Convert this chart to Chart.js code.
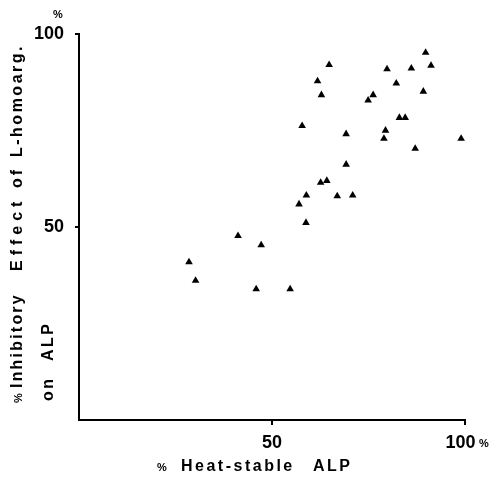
<!DOCTYPE html>
<html>
<head>
<meta charset="utf-8">
<script src="https://cdn.jsdelivr.net/npm/chart.js@4/dist/chart.umd.min.js"></script>
<style>
  html,body{margin:0;padding:0;background:#fff;}
  #wrap{width:494px;height:482px;}
</style>
</head>
<body>
<div id="wrap"><canvas id="c" width="494" height="482"></canvas></div>
<script>
/* values */
const heatStable = [89.8,64.8,91.2,79.8,86.1,61.8,82.2,62.8,76.2,74.9,89.2,83.0,84.5,57.8,79.4,69.2,79.0,99.0,87.1,69.2,62.6,64.2,58.9,57.0,66.9,70.9,58.8,41.2,47.2,28.5,30.2,45.9,54.7];
const inhibition = [95.2,92.0,91.8,90.9,91.1,87.8,87.2,84.2,84.2,82.8,85.1,78.3,78.3,76.2,75.0,74.1,72.9,72.9,70.3,66.2,61.5,62.0,58.2,55.9,58.0,58.2,51.1,47.7,45.3,40.9,36.1,33.9,33.9];
const tickVals = [50, 100];

const FONT = '"Liberation Sans", Arial, sans-serif';

/* titles + little % signs */
const labels = {
  id:'labels',
  afterDraw(chart){
    const ctx = chart.ctx;
    ctx.save();
    ctx.fillStyle = '#000';
    ctx.textBaseline = 'alphabetic';
    ctx.textAlign = 'left';

    // % above y axis and after the 100 on x
    ctx.font = 'bold 11px ' + FONT;
    ctx.fillText('%', 53, 18);
    ctx.fillText('%', 479, 447);

    // x title
    ctx.letterSpacing = '2.5px';
    ctx.fillText('%', 157, 471);
    ctx.font = 'bold 16px ' + FONT;
    ctx.fillText('Heat-stable', 181, 471);
    ctx.fillText('ALP', 313, 471);

    // y title, rotated
    ctx.rotate(-Math.PI/2);
    const seg = (txt, y, col, size, sp) => {
      ctx.font = 'bold ' + size + 'px ' + FONT;
      ctx.letterSpacing = sp + 'px';
      ctx.fillText(txt, -y, col);
    };
    seg('%', 403, 22, 11, 0);
    seg('Inhibitory', 388, 22, 16, 2.2);
    seg('Effect', 271, 22, 16, 5);
    seg('of', 188, 22, 16, 3);
    seg('L-homoarg.', 157, 22, 16, 2.5);
    seg('on', 401, 53, 16, 2.5);
    seg('ALP', 361, 53, 16, 2.5);
    ctx.restore();
  }
};

new Chart(document.getElementById('c'), {
  type:'scatter',
  data:{
    datasets:[{
      data: heatStable.map((v,i)=>({x:v, y:inhibition[i]})),
      pointStyle:'triangle',
      pointRadius:4.4,
      pointBorderWidth:0,
      backgroundColor:'#000',
      borderColor:'#000'
    }]
  },
  options:{
    responsive:false,
    animation:false,
    layout:{padding:{top:34,right:29,left:0,bottom:0}},
    plugins:{legend:{display:false},tooltip:{enabled:false}},
    scales:{
      x:{
        min:0,max:100,
        afterBuildTicks:s=>{s.ticks = tickVals.map(v=>({value:v}));},
        afterFit:s=>{s.height = 62;},
        grid:{drawOnChartArea:false,drawTicks:true,tickLength:5,color:'#000',lineWidth:2},
        border:{display:true,color:'#000',width:2},
        ticks:{color:'#000',padding:7,maxRotation:0,
          callback:v=> v===100 ? '100\u2002' : String(v),
          font:{family:FONT,size:18,weight:'bold'}}
      },
      y:{
        min:0,max:100,
        afterBuildTicks:s=>{s.ticks = tickVals.map(v=>({value:v}));},
        afterFit:s=>{s.width = 79;},
        grid:{drawOnChartArea:false,drawTicks:true,tickLength:4,color:'#000',lineWidth:2},
        border:{display:true,color:'#000',width:2},
        ticks:{color:'#000',padding:11,font:{family:FONT,size:18,weight:'bold'}}
      }
    }
  },
  plugins:[labels]
});
</script>
</body>
</html>
